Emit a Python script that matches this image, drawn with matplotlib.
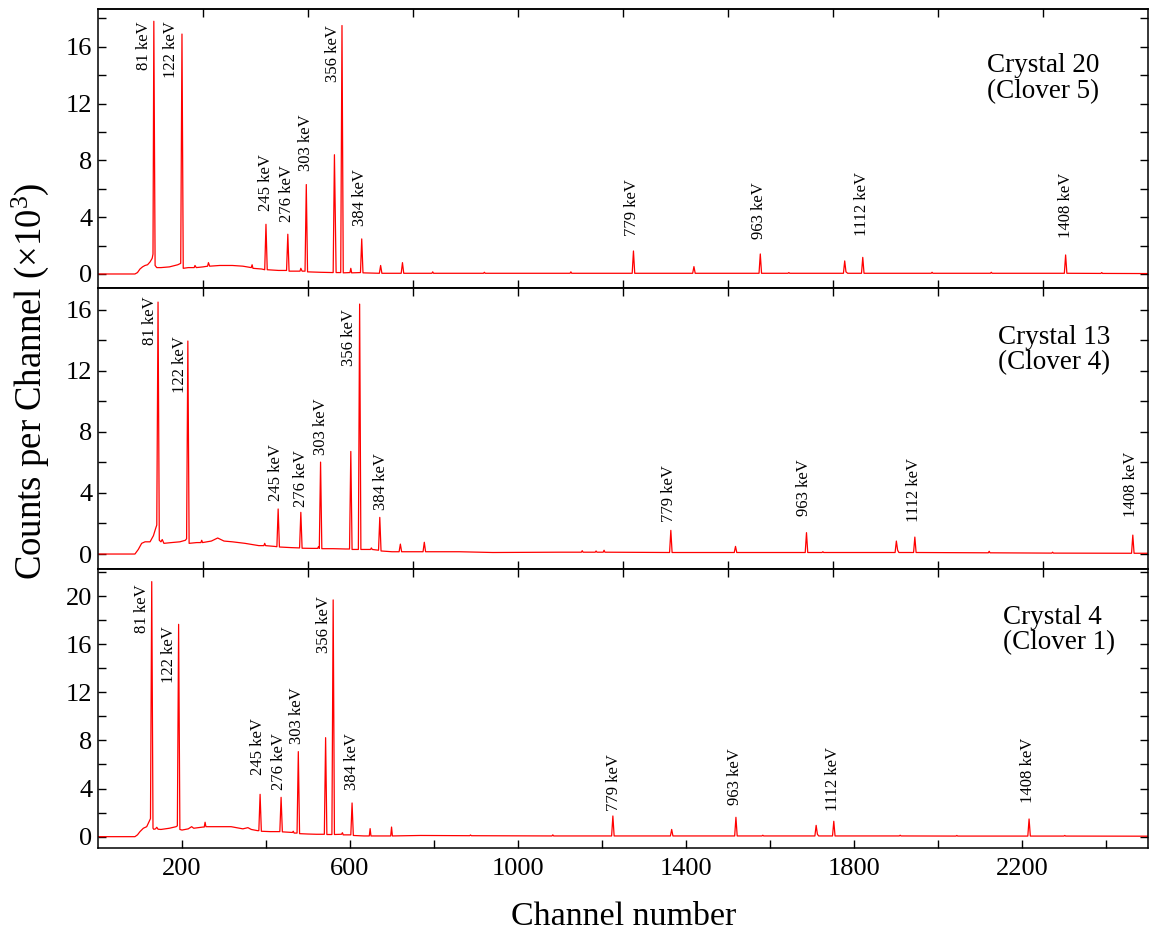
import matplotlib
matplotlib.use("Agg")
import matplotlib.pyplot as plt
from matplotlib.ticker import MultipleLocator, FixedLocator, NullFormatter

plt.rcParams['font.family'] = ['Liberation Serif', 'DejaVu Serif']
plt.rcParams['mathtext.fontset'] = 'custom'
plt.rcParams['mathtext.rm'] = 'Liberation Serif'
plt.rcParams['mathtext.it'] = 'Liberation Serif:italic'
plt.rcParams['mathtext.default'] = 'regular'

# ---------------- data (channel, counts x10^3) ----------------
spec20_ch = [0, 88, 94, 100, 106, 112, 118, 124, 129, 131, 133, 136, 140, 150, 170,
             190, 197, 200, 203, 215, 229, 231, 234, 250, 261, 263, 266, 290, 320,
             345, 365, 367, 369, 390, 397, 400, 403, 430, 449, 452, 455, 481, 483,
             486, 493, 496, 499, 530, 560, 563, 567, 578, 581, 584, 600, 602, 604,
             625, 628, 631, 670, 673, 676, 722, 725, 728, 795, 797, 799, 918, 920,
             922, 1124, 1126, 1128, 1272, 1275, 1278, 1416, 1419, 1422, 1574, 1577,
             1580, 1643, 1645, 1647, 1775, 1778, 1781, 1785, 1818, 1821, 1824, 1984,
             1986, 1988, 2125, 2127, 2129, 2301, 2304, 2307, 2388, 2390, 2392, 2500]
spec20_cnt = [0, 0, 0.1, 0.35, 0.5, 0.6, 0.65, 0.85, 1.1, 1.4, 17.8, 0.6, 0.45, 0.45, 0.5,
              0.65, 0.75, 16.9, 0.4, 0.45, 0.45, 0.6, 0.45, 0.5, 0.55, 0.8, 0.55, 0.6, 0.6,
              0.55, 0.45, 0.65, 0.4, 0.35, 0.3, 3.5, 0.3, 0.25, 0.25, 2.8, 0.2, 0.2, 0.4,
              0.2, 0.2, 6.3, 0.15, 0.12, 0.1, 8.4, 0.1, 0.1, 17.5, 0.08, 0.1, 0.4, 0.08,
              0.1, 2.47, 0.08, 0.05, 0.6, 0.05, 0.05, 0.8, 0.05, 0.05, 0.15, 0.05, 0.05, 0.12,
              0.05, 0.05, 0.15, 0.05, 0.05, 1.62, 0.05, 0.05, 0.52, 0.05, 0.05, 1.41,
              0.05, 0.05, 0.1, 0.05, 0.05, 0.92, 0.15, 0.05, 0.05, 1.17, 0.05, 0.05,
              0.12, 0.05, 0.05, 0.12, 0.05, 0.05, 1.34, 0.05, 0.04, 0.1, 0.04, 0.03]

spec13_ch = [0, 88, 96, 104, 112, 124, 132, 137, 140, 143, 146, 150, 153, 157, 175,
             195, 208, 211, 214, 217, 235, 245, 247, 249, 270, 285, 300, 320, 350,
             383, 395, 397, 399, 420, 426, 429, 432, 460, 480, 483, 486, 510, 523,
             525, 527, 530, 533, 560, 590, 599, 602, 605, 615, 620, 623, 626, 649,
             651, 653, 668, 671, 674, 700, 717, 720, 723, 774, 777, 780, 860, 940,
             1100, 1151, 1153, 1155, 1184, 1186, 1188, 1203, 1205, 1207, 1361, 1364,
             1367, 1515, 1518, 1521, 1684, 1687, 1690, 1724, 1726, 1728, 1898, 1901,
             1904, 1907, 1942, 1945, 1948, 2120, 2122, 2124, 2271, 2273, 2275, 2461,
             2464, 2467, 2500]
spec13_cnt = [0, 0, 0.3, 0.7, 0.8, 0.8, 1.2, 1.65, 1.9, 16.5, 0.9, 0.8, 0.95, 0.7, 0.75,
              0.8, 0.9, 1.0, 13.95, 0.7, 0.75, 0.75, 0.9, 0.75, 0.85, 1.05, 0.85, 0.8, 0.7,
              0.55, 0.55, 0.7, 0.55, 0.5, 0.48, 2.95, 0.46, 0.42, 0.4, 2.73, 0.38, 0.37, 0.37,
              0.48, 0.37, 6.02, 0.35, 0.35, 0.33, 0.33, 6.72, 0.3, 0.3, 0.3, 16.37, 0.3, 0.3,
              0.4, 0.3, 0.25, 2.4, 0.2, 0.15, 0.15, 0.65, 0.15, 0.15, 0.77, 0.15, 0.15, 0.1,
              0.12, 0.12, 0.22, 0.12, 0.12, 0.2, 0.12, 0.12, 0.25, 0.12, 0.1, 1.55,
              0.1, 0.1, 0.5, 0.1, 0.1, 1.4, 0.1, 0.1, 0.15, 0.1, 0.1, 0.85,
              0.25, 0.1, 0.1, 1.11, 0.1, 0.08, 0.18, 0.08, 0.06, 0.12, 0.06, 0.05,
              1.24, 0.05, 0.05]

spec4_ch = [0, 88, 94, 100, 108, 116, 121, 125, 128, 131, 133, 137, 140, 143, 150,
            170, 186, 189, 192, 195, 200, 215, 223, 228, 250, 253, 255, 257, 290,
            317, 345, 357, 365, 380, 383, 386, 389, 410, 433, 436, 439, 463, 465,
            467, 474, 477, 480, 500, 520, 539, 542, 545, 557, 560, 563, 580, 582,
            584, 602, 605, 608, 633, 646, 648, 650, 697, 699, 701, 768, 885, 887,
            889, 1081, 1083, 1085, 1223, 1226, 1229, 1363, 1366, 1369, 1516, 1519,
            1522, 1581, 1583, 1585, 1707, 1710, 1713, 1716, 1749, 1752, 1755, 1908,
            1910, 1912, 2043, 2045, 2047, 2214, 2217, 2220, 2300, 2302, 2304, 2500]
spec4_cnt = [0, 0, 0.15, 0.42, 0.7, 0.83, 1.2, 1.5, 21.2, 0.7, 0.61, 0.65, 0.78, 0.62, 0.6,
             0.7, 0.83, 0.9, 17.65, 0.6, 0.55, 0.65, 0.83, 0.7, 0.8, 0.8, 1.2, 0.83, 0.83,
             0.83, 0.65, 0.75, 0.6, 0.5, 0.5, 3.52, 0.45, 0.42, 0.42, 3.27, 0.4, 0.35, 0.45,
             0.3, 0.3, 7.07, 0.25, 0.22, 0.2, 0.2, 8.23, 0.18, 0.18, 19.68, 0.18, 0.2, 0.33,
             0.15, 0.15, 2.8, 0.1, 0.06, 0.06, 0.67, 0.06, 0.06, 0.8, 0.06, 0.1, 0.08, 0.14,
             0.08, 0.06, 0.15, 0.06, 0.06, 1.72, 0.06, 0.06, 0.6, 0.06, 0.06, 1.61,
             0.06, 0.06, 0.12, 0.06, 0.06, 0.94, 0.2, 0.06, 0.06, 1.28, 0.06, 0.06,
             0.12, 0.06, 0.05, 0.1, 0.05, 0.05, 1.47, 0.05, 0.05, 0.1, 0.05, 0.04]

peak_labels = ['81 keV', '122 keV', '245 keV', '276 keV', '303 keV', '356 keV',
               '384 keV', '779 keV', '963 keV', '1112 keV', '1408 keV']

label20_x = [109.5, 175, 400, 451, 495, 560, 625, 1272, 1575, 1819, 2304]
label20_y = [14.37, 13.78, 4.46, 3.68, 7.27, 13.54, 3.4, 2.68, 2.44, 2.68, 2.51]
label13_x = [125, 195, 424, 483, 530, 598, 673, 1360, 1682, 1942, 2460]
label13_y = [13.69, 10.52, 3.47, 3.1, 6.48, 12.31, 2.88, 2.12, 2.49, 2.12, 2.44]
label4_x = [106, 170, 380, 432, 475, 539, 604, 1229, 1517, 1750, 2215]
label4_y = [16.9, 12.8, 5.13, 3.88, 7.68, 15.3, 3.88, 2.16, 2.64, 2.16, 2.78]

detector_names = ['Crystal 20\n(Clover 5)', 'Crystal 13\n(Clover 4)', 'Crystal 4\n(Clover 1)']

x_major_labels = [200, 600, 1000, 1400, 1800, 2200]
x_minor_ticks = [400, 800, 1200, 1600, 2000, 2400]
frame_ticks = [250, 500, 750, 1000, 1250, 1500, 1750, 2000, 2250]

# ---------------- layout ----------------
fig = plt.figure(figsize=(11.5, 9.34), dpi=100)

panels = [
    (spec20_ch, spec20_cnt, label20_x, label20_y, (0.0852, 0.6916, 0.9130, 0.2987),
     (-0.99, 18.66), (0.847, 0.752)),
    (spec13_ch, spec13_cnt, label13_x, label13_y, (0.0852, 0.3908, 0.9130, 0.3008),
     (-0.98, 17.42), (0.857, 0.779)),
    (spec4_ch, spec4_cnt, label4_x, label4_y, (0.0852, 0.0921, 0.9130, 0.2987),
     (-0.94, 22.25), (0.862, 0.781)),
]

red = '#ff0000'
tick_len = 5.5
tick_w = 1.0
spine_w = 1.1
tick_fs = 19

for i, (ch, cnt, lx, ly, pos, ylim, tpos) in enumerate(panels):
    ax = fig.add_axes(pos)
    ax.plot(ch, cnt, color=red, lw=0.9)
    ax.set_xlim(0, 2500)
    ax.set_ylim(*ylim)
    ax.yaxis.set_major_locator(MultipleLocator(4))
    ax.yaxis.set_minor_locator(MultipleLocator(2))
    ax.tick_params(axis='y', which='both', direction='in', left=True, right=True,
                   length=tick_len, width=tick_w, labelsize=tick_fs, pad=4)
    for sp in ax.spines.values():
        sp.set_linewidth(spine_w)
    if i == 2:
        ax.xaxis.set_major_locator(FixedLocator(x_major_labels))
        ax.xaxis.set_minor_locator(FixedLocator(x_minor_ticks))
        ax.xaxis.set_minor_formatter(NullFormatter())
        ax.tick_params(axis='x', which='both', direction='in', top=False, bottom=True,
                       length=tick_len, width=tick_w, labelsize=tick_fs, pad=7)
    else:
        ax.xaxis.set_major_locator(FixedLocator(frame_ticks))
        ax.tick_params(axis='x', which='both', direction='in', top=False, bottom=True,
                       length=tick_len, width=tick_w, labelbottom=False)
    sec = ax.secondary_xaxis('top')
    sec.set_xticks(frame_ticks, labels=[''] * len(frame_ticks))
    sec.tick_params(axis='x', direction='in', length=tick_len, width=tick_w)
    sec.spines['top'].set_linewidth(spine_w)

    for x, y, t in zip(lx, ly, peak_labels):
        ax.text(x, y, t, rotation=90, ha='center', va='bottom', fontsize=12)

    ax.text(tpos[0], tpos[1], detector_names[i], transform=ax.transAxes,
            ha='left', va='center', fontsize=19.5, linespacing=1.05,
            multialignment='left')

fig.text(0.5426, 0.0096, 'Channel number', ha='center', va='baseline', fontsize=24.5)
fig.text(0.0262, 0.592, r'Counts per Channel ($\times$10$^{3}$)', rotation=90,
         ha='center', va='center', fontsize=26.5)

fig.savefig('out.png', dpi=100)
